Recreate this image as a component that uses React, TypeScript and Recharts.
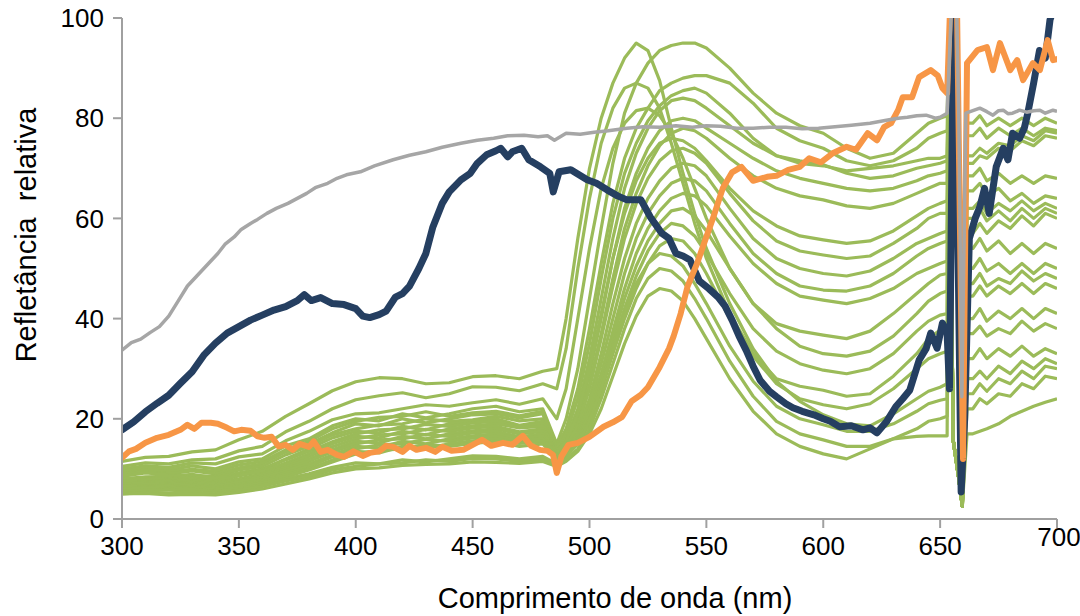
import React from "react";
import { LineChart, Line, XAxis, YAxis, Label } from "recharts";

const FONT = '"Liberation Sans", Arial, Helvetica, sans-serif';

const X_TICKS = [300, 350, 400, 450, 500, 550, 600, 650, 700];
const Y_TICKS = [0, 20, 40, 60, 80, 100];

// wavelengths (nm) sampled for the green spectra
const GREEN_NM = [
  300, 310, 320, 330, 340, 350, 360, 370, 380, 390, 400, 410, 420, 430, 440, 450, 460, 470, 480,
  486, 490, 495, 500, 505, 510, 515, 520, 525, 530, 535, 540, 545, 550, 560, 570, 580, 590, 600, 610,
  620, 630, 640, 645, 650, 653, 654, 655.5, 658, 659.5, 661.5, 664, 667, 670, 675, 680, 685, 690, 695, 700,
];

// early risers, sharp peak
const G01 = [11.5, 12.3, 12.5, 13.4, 13.8, 15.8, 17.5, 20.5, 23, 25.6, 27.4, 28.2, 28, 27, 27.2, 28.4, 28.6, 28, 29.5, 30, 40, 56, 70, 80, 87, 92, 95, 93.5, 87.5, 78, 69, 61, 54, 43, 34, 27.5, 23.5, 20.8, 19, 18.6, 21, 24, 25.5, 26.3, 27, 104, 16, 8, 2.5, 28, 28, 29.5, 28, 30.5, 29, 31.5, 30, 32, 31];
const G02 = [10.5, 11.2, 11, 11.8, 12, 13.6, 14.5, 17.4, 19.5, 22, 23.8, 24.6, 25.2, 24.2, 25, 26.4, 26.3, 25.6, 27, 26, 34, 50, 64, 75, 82, 86, 87, 86, 82, 75, 67, 59, 52, 41, 33, 28, 26.5, 25.7, 24.5, 25, 28.5, 33, 36, 37.7, 38, 104, 16, 8, 2.5, 37, 37, 38.5, 36.5, 38, 37, 39.5, 37.5, 39, 38];
const G03 = [10, 10.6, 10.3, 11.2, 11, 12.4, 13, 15.6, 17.5, 19.8, 21, 21.2, 22, 22.8, 22.5, 23.2, 23.8, 22.9, 24, 20, 26, 40, 54, 66, 74, 79, 81.5, 82, 80.5, 77, 72, 66, 60, 50, 43, 39, 37.5, 36.7, 36, 37.5, 41, 45, 47, 48.7, 49, 104, 16, 8, 2.5, 47, 47, 49, 46.5, 48, 47, 49.5, 47.5, 49, 48];
// broad peaks, high plateau in the red
const G04 = [9.5, 10.2, 9.8, 10.6, 10, 11.4, 12, 14.6, 16, 18.6, 20, 19.6, 21, 20.2, 21, 22, 22.5, 21.4, 22, 15, 20, 30, 44, 58, 71, 81, 87, 91, 93.5, 94.5, 95, 95, 94, 90, 85, 81, 78.5, 77, 74, 72, 73, 77, 79, 80, 80.5, 104, 16, 8, 2.5, 79, 79, 80.5, 78.5, 80, 78.5, 80, 78.5, 80, 79];
const G05 = [9, 9.8, 9.5, 9.9, 9.5, 10.8, 11.5, 13.8, 15.5, 18, 19.5, 20.3, 20.5, 21.4, 20.5, 21.2, 21.5, 20.6, 21.5, 14.5, 18, 26, 38, 51, 63, 72, 78, 82, 85.5, 87, 88, 88.5, 88.5, 87, 83, 78, 75.5, 74, 71.5, 70.5, 71.5, 74, 76, 77, 77.5, 104, 16, 8, 2.5, 76.5, 76.5, 78, 76, 78, 76.5, 78, 76.5, 78, 77.5];
const G06 = [9, 9.4, 9, 9.6, 9, 10.2, 11, 13.4, 15, 17.2, 19, 18.6, 20, 19.2, 20, 20.8, 21, 20.2, 21, 14, 17, 24, 35, 48, 60, 69, 75, 79.5, 82.5, 84.5, 85.5, 86, 85, 81, 76, 72.5, 71, 70.5, 69.5, 70, 70.5, 71.5, 72, 72, 72.5, 104, 16, 8, 2.5, 72.5, 72.5, 74, 73, 75, 74.5, 76.5, 75.5, 77.5, 77];
const G07 = [8.5, 9.2, 8.8, 8.6, 8.5, 9.8, 10.5, 12.8, 14.5, 16.8, 18, 18.8, 19, 20, 19.5, 19.8, 20.5, 19.6, 20, 13.5, 16, 22, 32, 44, 56, 66, 73, 78, 81.5, 83.5, 84, 83.5, 82, 78.5, 75, 72.5, 71.5, 70.7, 69, 68, 68.5, 70, 70.5, 71, 71.5, 104, 16, 8, 2.5, 71, 71, 72.5, 72, 74, 73.5, 75.5, 74.5, 76.5, 76];
const G08 = [8, 8.4, 8.5, 8.9, 8.2, 9.2, 10, 12, 14, 16.2, 17.5, 17.2, 18.5, 17.8, 19, 19.6, 20, 18.7, 19.5, 13.5, 15.5, 20, 29, 40, 52, 62, 69, 74, 77.5, 79.5, 80, 79.5, 78, 75, 72, 69.5, 68, 67, 66, 65.5, 66, 67.5, 68.5, 69, 69.5, 104, 16, 8, 2.5, 68.5, 68.5, 70, 67.5, 69, 67, 68.5, 67, 68.5, 68];
const G09 = [8, 8.2, 8, 8.5, 8, 8.8, 9.8, 11.8, 13.5, 15.4, 17, 17.8, 18, 18.9, 18.5, 19.2, 19.5, 18.4, 19, 13, 15, 19, 27, 37, 48, 58, 65, 70.5, 74.5, 77, 78, 77.5, 76, 72, 68.5, 66, 64.5, 63.7, 62.5, 62, 63, 65, 66, 67, 67, 104, 16, 8, 2.5, 65.5, 65.5, 67, 64.5, 66, 63.5, 65, 63, 64.5, 64];
const G10 = [7.5, 8, 7.8, 8.2, 7.5, 8.6, 9.5, 11.2, 13, 15, 16.5, 16.2, 17.5, 16.8, 18, 18.6, 19, 18.2, 18.5, 13, 15.5, 21, 30, 41, 52, 61, 67.5, 72, 75, 76, 75.5, 74, 71.5, 66, 61.5, 58.5, 56.5, 55.7, 55, 55.5, 57.5, 60.5, 62, 63, 63.5, 104, 16, 8, 2.5, 62, 62, 63.5, 61, 63, 61.5, 63.5, 61.5, 63, 62];
const G11 = [7.5, 7.7, 7.5, 7.9, 7.2, 8, 9, 10.8, 12.5, 14.4, 16, 16.8, 17, 17.9, 17.5, 18.2, 18.5, 17.4, 18, 12.5, 14.5, 18.5, 26, 36, 46.5, 56, 63, 68, 71.5, 73.5, 74, 73, 71, 65, 59.5, 55.5, 53.5, 52.7, 52, 52.5, 55, 58, 60, 61, 61, 104, 16, 8, 2.5, 60, 60, 62, 59.5, 61.5, 59.5, 62, 60, 62, 61];
const G12 = [7, 7.4, 7.2, 7.6, 7, 7.8, 8.8, 10.4, 12, 13.8, 15.5, 15.2, 16.5, 16, 17, 17.6, 18, 17, 17.5, 12.5, 14, 17.5, 24, 33, 43, 52, 59, 64, 67.5, 70, 71, 70.5, 68.5, 62, 56, 52, 50, 49, 48.5, 49.5, 52, 55, 56, 57, 57.5, 104, 16, 8, 2.5, 57, 57, 59, 57, 59.5, 58, 60.5, 58.5, 61, 60];
const G13 = [7, 7.1, 7, 7.3, 6.8, 7.5, 8.5, 10, 11.5, 13.4, 15, 15.8, 16, 16.9, 16.5, 17.2, 17.5, 16.4, 17, 12.5, 14, 17, 23, 31, 40, 49, 56, 61, 64.5, 67, 68, 67.5, 65.5, 59, 53, 49, 46.5, 45.7, 45.5, 46.5, 49, 52.5, 54, 55, 55.5, 104, 16, 8, 2.5, 54, 54, 56, 53.5, 55.5, 53, 55, 53, 55, 54];
const G14 = [6.5, 6.9, 6.8, 7, 6.5, 7.3, 8.2, 9.6, 11, 12.8, 14.5, 14.2, 15.5, 15, 16, 16.6, 17, 16, 16.5, 12.5, 14, 16.5, 22, 29, 37.5, 46, 53, 58, 61.5, 64, 65, 64.5, 62.5, 56.5, 51, 47, 44.5, 43.7, 43, 44, 46, 49, 50, 51, 51.5, 104, 16, 8, 2.5, 50, 50, 52, 49.5, 51, 49, 51, 49, 51, 50];
// lower humps, deep minimum near 610 nm
const G15 = [6.5, 6.6, 6.5, 6.8, 6.2, 6.9, 7.8, 9.2, 10.5, 12.4, 14, 14.8, 15, 15.9, 15.5, 16.2, 16.5, 15.6, 16, 12.5, 13.5, 16, 21, 28, 36, 44, 50.5, 55.5, 59, 61.5, 62, 60.5, 57.5, 50, 43, 38, 34.5, 33, 32.5, 33.5, 36.5, 41, 43.5, 45, 45.5, 104, 16, 8, 2.5, 44.5, 44.5, 46.5, 44.5, 46.5, 45, 47, 45, 47, 46];
const G16 = [6, 6.4, 6.2, 6.5, 6, 6.6, 7.5, 8.8, 10, 11.8, 13.5, 13.2, 14.5, 14.1, 15, 15.6, 16, 15.1, 15.5, 12, 13, 15.5, 20, 27, 34.5, 42, 48.5, 53.5, 57, 59, 58.5, 56.5, 53, 45, 38, 33.5, 31, 29.7, 29, 30, 33, 37.5, 39.5, 40.7, 41, 104, 16, 8, 2.5, 40, 40, 42, 39.5, 41.5, 40, 42, 40, 42, 41];
const G17 = [6, 6.1, 6, 6.2, 5.8, 6.4, 7.2, 8.4, 9.8, 11.4, 13, 13.7, 14, 14.9, 14.5, 15.1, 15.5, 14.5, 15, 12, 13, 15, 19, 25.5, 33, 40, 46, 51, 54.5, 56, 55.5, 53, 49, 40, 32.5, 27, 24, 22.8, 22, 23, 26, 30, 32, 33, 33.5, 104, 16, 8, 2.5, 32, 32, 34, 32, 34, 32.5, 34.5, 32.5, 34, 33];
const G18 = [5.5, 5.7, 5.8, 5.9, 5.5, 6, 6.8, 8, 9, 10.3, 11.2, 11, 11.8, 11.4, 12, 12.6, 12.5, 12, 12.5, 11, 12.5, 15, 19.5, 26, 33.5, 41, 47, 51, 53, 52.5, 50.5, 47, 43, 34.5, 27.5, 22.5, 20, 18.8, 17.5, 17.5, 19, 21.5, 23, 23.7, 24, 104, 16, 8, 2.5, 25, 25, 27, 25.5, 28, 27, 29.5, 28, 30.5, 30];
const G19 = [5, 5.3, 5.2, 5.4, 5, 5.7, 6.5, 7.6, 8.5, 9.8, 10.5, 11, 11.2, 11.8, 11.5, 12.1, 12, 11.5, 12, 11, 12, 14, 18, 24, 31, 38, 44, 48, 50, 49.5, 47.5, 44, 40, 31.5, 24.5, 19.5, 17, 15.8, 14.5, 14.5, 16, 18, 19.5, 20, 20.5, 104, 16, 8, 2.5, 22, 22, 24, 23, 25, 24.5, 27, 26, 28.5, 28];
const G20 = [5, 5.1, 4.8, 4.9, 4.8, 5.3, 6, 7, 8, 9.2, 10, 10.2, 10.7, 10.9, 11, 11.4, 11.3, 11.1, 11.5, 10.5, 11.5, 13.5, 17, 22, 28.5, 35, 40.5, 44.5, 46, 45.5, 43.5, 40, 36, 28, 21.5, 17, 14.5, 13, 12, 14, 16, 16.5, 16.6, 16.6, 16.6, 104, 16, 8, 2.5, 17, 17, 17.5, 18, 19, 20.5, 21.5, 22.5, 23.3, 24];

const GREENS = [G01, G02, G03, G04, G05, G06, G07, G08, G09, G10, G11, G12, G13, G14, G15, G16, G17, G18, G19, G20];

const BLUE_NM = [
  300, 305, 310, 315, 320, 325, 330, 335, 340, 345, 350, 355, 360, 365, 370, 375, 378, 381, 385, 390,
  395, 400, 403, 406, 410, 413, 417, 420, 423, 427, 430, 433, 437, 440, 445, 449, 452, 456, 460, 462,
  465, 467, 471, 474, 479, 483, 484.5, 487, 492, 499, 503, 507.5, 512, 516, 522, 526, 531, 534, 537, 540,
  543, 547, 551, 555, 558, 561, 564, 567, 570, 573, 577, 580, 584, 587, 591, 596, 600, 603, 607, 612,
  617, 620, 623, 627, 631, 634, 637, 641, 644, 646, 648.7, 651, 653, 654, 656, 657.5, 659, 660.5, 662.5, 665,
  667, 669, 671, 674, 677, 679, 681, 684, 686, 687.5, 690, 692.5, 695, 697, 700,
];
const BLUE = [
  17.8, 19.4, 21.4, 23.1, 24.7, 27.1, 29.4, 32.7, 35.1, 37.1, 38.4, 39.7, 40.7, 41.7, 42.4, 43.6, 44.8, 43.6, 44.2, 43,
  42.8, 42, 40.5, 40.2, 40.8, 41.5, 44.3, 45, 46.5, 50, 53, 58.3, 63, 65.3, 67.7, 69, 71, 72.7, 73.5, 74,
  72.3, 73.3, 74, 71.7, 70.3, 69, 65.3, 69.3, 69.7, 67.7, 67, 65.7, 64.5, 63.7, 63.7, 60.3, 57, 56, 53, 52.5,
  51.7, 47.5, 46, 44.3, 42.5, 39.7, 36.5, 33.7, 30.5, 27.7, 25.5, 24.4, 23, 22.2, 21.5, 20.8, 20, 19.5, 18.4, 18.6,
  17.8, 18.2, 17.2, 19.4, 22.4, 24, 25.7, 31.7, 34, 37.1, 34.1, 39.1, 37, 26, 112, 60, 5.4, 20, 56, 60,
  62.3, 66, 61, 70.3, 74, 71.7, 77, 76, 78, 81, 87, 93.5, 92, 99.6, 104,
];

const ORANGE_NM = [
  300, 303, 306, 310, 315, 320, 325, 328, 331, 334, 338, 341, 345, 348, 351, 355, 358, 361, 364, 367,
  370, 373, 376, 380, 382, 385, 388, 392, 395, 399, 403, 406, 410, 413, 416, 420, 423, 426, 430, 434,
  437, 441, 446, 450, 454, 458, 463, 467, 471.5, 475, 478.8, 482, 484.4, 486, 488, 491, 495, 500, 506, 510,
  514, 518, 522, 525, 530, 534, 536, 539, 542, 546, 549, 553, 557, 561, 565, 570, 576, 580, 585, 590,
  594, 599, 604, 610, 614, 619, 623, 626, 629, 632, 634, 638, 641, 646, 649, 651, 653, 655, 657, 659.8,
  661.5, 666, 670, 672.6, 675.6, 680, 683, 685.5, 689.7, 692.7, 696, 698.3, 700,
];
const ORANGE = [
  12.2, 13.5, 14, 15.2, 16.2, 16.8, 17.8, 18.8, 18, 19.2, 19.2, 19, 18.2, 17.5, 17.8, 17.6, 16.5, 16.2, 16.4, 14.5,
  14.8, 13.8, 15, 14.4, 15.5, 13.4, 13.8, 12.8, 12.4, 13.5, 12.6, 13.2, 13.5, 14.6, 14.4, 13.4, 14.6, 13.8, 14.2, 13.4,
  14.4, 13.6, 13.8, 14.8, 15.8, 14.6, 15.2, 14.8, 16.6, 14.6, 13.8, 13.6, 12.8, 9.2, 12.5, 14.8, 15.2, 16.4, 18.4, 19.3,
  20.4, 23.5, 24.8, 26.3, 30.3, 34, 36.5, 41, 46.5, 51, 55, 60.3, 66, 69.2, 70.3, 67.5, 68.3, 68.5, 69.7, 70.3,
  72, 71.2, 73, 74.3, 73.7, 77, 75.6, 78.2, 79, 81.6, 84.2, 84.2, 88.2, 89.6, 88.5, 86, 85, 112, 110, 12,
  91, 93.6, 94.2, 89.6, 95, 89.6, 91.6, 87.6, 91, 89.6, 95.6, 91.6, 91.8,
];

const GRAY_NM = [
  300, 304, 308, 312, 316, 320, 324, 328, 333, 337, 341, 344, 348, 351, 355, 358, 362, 366, 371, 375,
  379, 383, 388, 392, 396, 402, 408, 416, 423, 430, 437, 445, 452, 459, 465, 472, 478, 482, 485, 490,
  496, 502, 508, 516, 523, 530, 537, 544, 550, 556, 563, 570, 577, 584, 591, 598, 605, 612, 620, 627,
  632, 636, 640, 644, 648, 650, 653, 655, 656.5, 658, 659.3, 661, 664, 667, 670, 672.6, 675, 677, 679, 681,
  684, 687, 690, 692.7, 695, 698.3, 700,
];
const GRAY = [
  33.7, 35.2, 35.9, 37.2, 38.4, 40.5, 43.5, 46.5, 49, 51, 53, 54.8, 56.3, 57.8, 59, 59.8, 61, 62, 63, 64,
  65, 66.2, 67, 68, 68.7, 69.3, 70.5, 71.7, 72.6, 73.3, 74.2, 75, 75.6, 76, 76.5, 76.6, 76.3, 76.5, 75.6, 77,
  76.8, 77.2, 77.5, 78, 78.3, 78.2, 78.5, 78.2, 78.5, 78.4, 78, 78, 78.2, 78.2, 77.9, 78, 78.3, 78.6, 79, 79.6,
  80, 80.2, 80.5, 80.6, 80, 80.2, 81, 104, 115, 80, 24.4, 81, 81.5, 82, 81.3, 80.6, 81.5, 81.6, 80.9, 81,
  81.6, 81.2, 81.5, 81.6, 81, 81.6, 81.4,
];

const GREEN = "#9BBB59";
const BLUE_C = "#253F61";
const ORANGE_C = "#F79646";
const GRAY_C = "#A6A6A6";
const AXIS_C = "#A0A0A0";

type Row = { nm: number; [key: string]: number };

function buildRows(): Row[] {
  const map = new Map<number, Row>();
  const put = (key: string, xs: number[], ys: number[]) => {
    xs.forEach((x, i) => {
      let r = map.get(x);
      if (!r) {
        r = { nm: x };
        map.set(x, r);
      }
      r[key] = ys[i];
    });
  };
  GREENS.forEach((g, i) => put(`g${i + 1}`, GREEN_NM, g));
  put("blue", BLUE_NM, BLUE);
  put("orange", ORANGE_NM, ORANGE);
  put("gray", GRAY_NM, GRAY);
  return [...map.values()].sort((a, b) => a.nm - b.nm);
}

const rows = buildRows();

function XTick(props: any) {
  const { x, y, payload } = props;
  const last = payload.value === 700;
  return (
    <text
      x={x + (last ? 2 : 0)}
      y={y + (last ? -9 : 0)}
      dy="0.71em"
      textAnchor="middle"
      fontSize={26}
      fontFamily={FONT}
      fill="#000"
    >
      {payload.value}
    </text>
  );
}

export default function App() {
  return (
    <div style={{ width: 1080, height: 616, background: "#fff" }}>
      <style>{"body{margin:0}"}</style>
      <LineChart width={1080} height={616} data={rows} margin={{ top: 18, right: 23, bottom: 37, left: 52 }}>
        <XAxis
          dataKey="nm"
          type="number"
          domain={[300, 700]}
          ticks={X_TICKS}
          allowDataOverflow
          height={60}
          tickSize={9}
          tickMargin={9}
          axisLine={{ stroke: AXIS_C, strokeWidth: 2 }}
          tickLine={{ stroke: AXIS_C, strokeWidth: 2 }}
          tick={<XTick />}
        >
          <Label
            content={() => (
              <text x={615} y={608} textAnchor="middle" fontSize={29} fontFamily={FONT} fill="#000">
                Comprimento de onda (nm)
              </text>
            )}
          />
        </XAxis>
        <YAxis
          type="number"
          domain={[0, 100]}
          ticks={Y_TICKS}
          allowDataOverflow
          width={70}
          tickSize={9}
          tickMargin={9}
          axisLine={{ stroke: AXIS_C, strokeWidth: 2 }}
          tickLine={{ stroke: AXIS_C, strokeWidth: 2 }}
          tick={{ fill: "#000", fontSize: 26, fontFamily: FONT }}
        >
          <Label
            content={() => (
              <text
                x={36}
                y={235}
                transform="rotate(-90 36 235)"
                textAnchor="middle"
                fontSize={29}
                fontFamily={FONT}
                fill="#000"
                style={{ whiteSpace: "pre" }}
              >
                Refletância  relativa
              </text>
            )}
          />
        </YAxis>
        {GREENS.map((_, i) => (
          <Line
            key={`g${i + 1}`}
            dataKey={`g${i + 1}`}
            stroke={GREEN}
            strokeWidth={3.2}
            dot={false}
            activeDot={false}
            connectNulls
            type="linear"
            strokeLinejoin="round"
            isAnimationActive={false}
          />
        ))}
        <Line dataKey="blue" stroke={BLUE_C} strokeWidth={7} dot={false} activeDot={false} connectNulls type="linear" strokeLinejoin="round" strokeLinecap="round" isAnimationActive={false} />
        <Line dataKey="orange" stroke={ORANGE_C} strokeWidth={6} dot={false} activeDot={false} connectNulls type="linear" strokeLinejoin="round" strokeLinecap="round" isAnimationActive={false} />
        <Line dataKey="gray" stroke={GRAY_C} strokeWidth={3.5} dot={false} activeDot={false} connectNulls type="linear" strokeLinejoin="round" isAnimationActive={false} />
      </LineChart>
    </div>
  );
}
